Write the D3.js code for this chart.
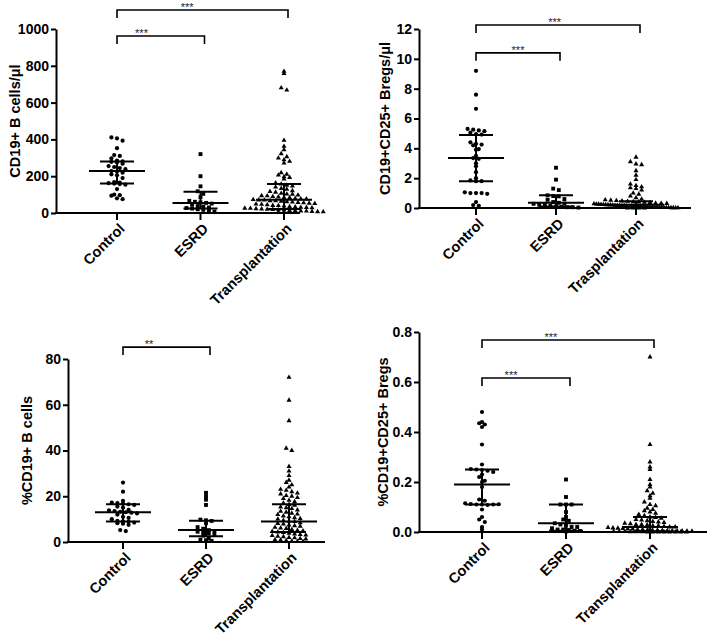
<!DOCTYPE html>
<html>
<head>
<meta charset="utf-8">
<script src="https://cdn.jsdelivr.net/npm/d3@7"></script>
<style>
  body { margin: 0; background: #fff; }
  svg text { font-family: "Liberation Sans", Arial, sans-serif; }
</style>
</head>
<body>
<svg id="chart" width="709" height="636"></svg>
<script>
// ---- categories ----
const groups = ["Control", "ESRD", "Transplantation"];
const groupsTypo = ["Control", "ESRD", "Trasplantation"]; // as printed in the CD25 panel

// ---- CD19+ B cells / ul ----
const absBControl = [411, 405, 393, 352, 315, 310, 297, 285, 280, 278, 274, 268, 255, 250, 244, 238, 228, 225, 219, 210, 205, 190, 168, 165, 162, 160, 157, 154, 130, 100, 97, 94, 80, 75];
const absBEsrd = [320, 200, 145, 118, 104, 86, 66, 61, 58, 55, 51, 45, 38, 35, 30, 27, 24, 20, 17, 12, 8];
const absBTrans = [770, 758, 680, 668, 395, 362, 344, 322, 306, 298, 289, 281, 271, 219, 211, 206, 197, 193, 184, 163, 157, 151, 147, 141, 133, 129, 121, 117, 113, 107, 103, 101, 97, 94, 93, 89, 87, 84, 83, 79, 77, 76, 73, 71, 70, 67, 66, 63, 61, 59, 57, 55, 53, 51, 48, 47, 44, 41, 40, 38, 35, 33, 31, 30, 28, 26, 25, 23, 22, 20, 19, 17, 16, 14, 13, 11, 10, 8, 7, 6, 4, 3, 2];
const absBMedian = [228, 55, 72];
const absBQ1 = [160, 25, 22];
const absBQ3 = [280, 116, 158];
const absBTicks = [0, 200, 400, 600, 800, 1000];

// ---- CD19+CD25+ Bregs / ul ----
const absRControl = [9.2, 7.6, 6.65, 5.3, 5.25, 5.2, 5.15, 5.05, 4.95, 4.92, 4.4, 4.3, 4.25, 4.2, 3.95, 3.9, 3.5, 3.35, 3.3, 3.0, 2.8, 2.4, 2.0, 1.85, 1.8, 1.8, 1.05, 1.0, 1.0, 1.0, 0.95, 0.4, 0.2, 0.15];
const absREsrd = [2.7, 1.9, 1.3, 1.2, 0.85, 0.8, 0.78, 0.6, 0.55, 0.4, 0.35, 0.3, 0.28, 0.22, 0.2, 0.15, 0.1, 0.08, 0.05, 0.05, 0.03];
const absRTrans = [3.4, 3.1, 2.95, 2.9, 2.5, 2.2, 1.9, 1.6, 1.5, 1.42, 1.35, 1.3, 1.2, 1.0, 0.92, 0.8, 0.68, 0.6, 0.55, 0.52, 0.5, 0.47, 0.45, 0.42, 0.4, 0.38, 0.36, 0.32, 0.31, 0.3, 0.28, 0.26, 0.25, 0.24, 0.23, 0.22, 0.21, 0.2, 0.19, 0.18, 0.17, 0.16, 0.15, 0.15, 0.14, 0.13, 0.12, 0.12, 0.11, 0.1, 0.1, 0.09, 0.08, 0.08, 0.07, 0.06, 0.06, 0.05, 0.05, 0.04, 0.04, 0.03, 0.03, 0.02, 0.02, 0.01, 0.01, 0.0, 0.0, 0.0, 0.0];
const absRMedian = [3.35, 0.35, 0.22];
const absRQ1 = [1.8, 0.1, 0.05];
const absRQ3 = [4.9, 0.85, 0.45];
const absRTicks = [0, 2, 4, 6, 8, 10, 12];

// ---- %CD19+ B cells ----
const pctBControl = [26, 22, 18, 17.2, 17, 16.8, 16.5, 16.2, 15.5, 15, 14, 13.8, 13.5, 13.2, 13, 12.8, 12.5, 12, 11, 10.5, 10, 9.2, 9, 8.8, 8.5, 8.2, 8, 7.5, 5.2, 4.8];
const pctBEsrd = [21.5, 20, 18.5, 16.2, 9.8, 9.5, 9.2, 8.2, 6.5, 5.8, 5.2, 4.8, 4.5, 4.2, 3.8, 3.2, 2.8, 1.5, 1.0, 0.8, 0.5];
const pctBTrans = [72, 62, 53, 41, 40, 33, 31, 29, 27, 26, 25, 24, 23, 22.6, 22, 21.4, 21, 20.3, 20, 19.4, 19, 18.2, 17.6, 17, 16.4, 16, 15.3, 15, 14.6, 14, 13.4, 13, 12.6, 12.2, 12, 11.4, 11, 10.6, 10.2, 10, 9.4, 9.1, 8.9, 8.4, 8.1, 7.9, 7.4, 7.1, 6.9, 6.4, 6.1, 5.9, 5.4, 5.1, 4.9, 4.6, 4.3, 4.1, 3.8, 3.5, 3.3, 3.0, 2.8, 2.5, 2.3, 2.0, 1.8, 1.5, 1.3, 1.0, 0.9, 0.6, 0.4, 0.3, 0.2];
const pctBMedian = [13, 5.3, 9];
const pctBQ1 = [9, 2.5, 4.4];
const pctBQ3 = [16.5, 9.3, 16.5];
const pctBTicks = [0, 20, 40, 60, 80];

// ---- %CD19+CD25+ Bregs ----
const pctRControl = [0.48, 0.44, 0.435, 0.43, 0.42, 0.35, 0.27, 0.252, 0.25, 0.248, 0.245, 0.24, 0.23, 0.22, 0.205, 0.2, 0.18, 0.13, 0.125, 0.115, 0.112, 0.11, 0.11, 0.108, 0.11, 0.111, 0.09, 0.06, 0.05, 0.04, 0.02, 0.01];
const pctREsrd = [0.21, 0.14, 0.11, 0.11, 0.11, 0.08, 0.06, 0.05, 0.045, 0.035, 0.03, 0.025, 0.02, 0.02, 0.015, 0.01, 0.01, 0.008, 0.005, 0.004, 0.002];
const pctRTrans = [0.70, 0.35, 0.28, 0.26, 0.25, 0.21, 0.19, 0.18, 0.165, 0.155, 0.145, 0.135, 0.12, 0.11, 0.105, 0.095, 0.09, 0.085, 0.08, 0.075, 0.07, 0.065, 0.06, 0.058, 0.055, 0.05, 0.048, 0.045, 0.042, 0.04, 0.038, 0.035, 0.033, 0.03, 0.03, 0.028, 0.025, 0.025, 0.022, 0.02, 0.02, 0.018, 0.016, 0.015, 0.014, 0.012, 0.012, 0.01, 0.01, 0.009, 0.008, 0.007, 0.006, 0.005, 0.005, 0.004, 0.004, 0.003, 0.003, 0.002, 0.002, 0.002, 0.001, 0.001, 0.001, 0, 0, 0, 0, 0, 0, 0, 0];
const pctRMedian = [0.19, 0.035, 0.02];
const pctRQ1 = [0.11, 0.005, 0.003];
const pctRQ3 = [0.25, 0.11, 0.06];
const pctRTicks = [0, 0.2, 0.4, 0.6, 0.8];

// brackets: [from, to, stars, height in data units, text position 0..1 along]
const absBBrackets = [[0, 1, "***", 962, 0.28], [0, 2, "***", 1103, 0.41]];
const absRBrackets = [[0, 1, "***", 10.4, 0.5], [0, 2, "***", 12.27, 0.48]];
const pctBBrackets = [[0, 1, "**", 85.2, 0.3]];
const pctRBrackets = [[0, 1, "***", 0.616, 0.33], [0, 2, "***", 0.768, 0.4]];

const svg = d3.select("#chart");
const shapes = [d3.symbolCircle, d3.symbolSquare, d3.symbolTriangle];
const shapeSize = [14, 15, 11];

// GraphPad-like scatter: points in the same pixel row get spread sideways
function swarm(values, y, cx, maxHalf) {
  const step = 5.6, binPx = 4.2;
  const pts = values.map(v => ({ v, y: y(v) }));
  const rows = d3.group(pts, p => Math.round(p.y / binPx));
  rows.forEach(row => {
    const n = row.length;
    const s = n > 1 ? Math.min(step, 2 * maxHalf / (n - 1)) : 0;
    row.forEach((p, i) => { p.x = cx + (i - (n - 1) / 2) * s; });
  });
  return pts;
}

function panel(cfg) {
  const y = d3.scaleLinear().domain(cfg.domain).range([cfg.y0, cfg.y1]);
  const x = d3.scalePoint().domain(cfg.labels).range([cfg.c0, cfg.c1]);
  const g = svg.append("g");

  // y axis
  const ya = g.append("g")
    .attr("transform", "translate(" + cfg.ax + ",0)")
    .call(d3.axisLeft(y).tickValues(cfg.ticks).tickFormat(cfg.fmt || d3.format("d")).tickSize(5).tickSizeOuter(0));
  ya.select(".domain").attr("stroke-width", 2);
  ya.selectAll(".tick line").attr("stroke-width", 2);
  ya.selectAll(".tick text").attr("font-size", 14).attr("font-weight", "bold").attr("fill", "#000").attr("x", -7);

  // x axis
  g.append("line").attr("x1", cfg.ax - 1).attr("x2", cfg.xEnd)
    .attr("y1", cfg.y0).attr("y2", cfg.y0).attr("stroke", "#000").attr("stroke-width", 2);
  cfg.labels.forEach(l => {
    g.append("line").attr("x1", x(l)).attr("x2", x(l)).attr("y1", cfg.y0).attr("y2", cfg.y0 + 7)
      .attr("stroke", "#000").attr("stroke-width", 2);
    g.append("text")
      .attr("transform", "translate(" + (x(l) + 5) + "," + (cfg.y0 + 13) + ") rotate(-45)")
      .attr("text-anchor", "end").attr("dy", "0.35em")
      .attr("font-size", 14.5).attr("font-weight", "bold").text(l);
  });

  // y label
  g.append("text")
    .attr("transform", "translate(" + cfg.lx + "," + ((cfg.y0 + cfg.y1) / 2) + ") rotate(-90)")
    .attr("text-anchor", "middle").attr("dy", "0.35em")
    .attr("font-size", 14.5).attr("font-weight", "bold").text(cfg.title);

  // points
  cfg.series.forEach((vals, i) => {
    const pts = swarm(vals, y, x(cfg.labels[i]), cfg.spread[i]);
    g.selectAll(null).data(pts).enter().append("path")
      .attr("d", d3.symbol().type(shapes[i]).size(shapeSize[i]))
      .attr("transform", p => "translate(" + p.x + "," + p.y + ")")
      .attr("fill", "#000");
  });

  // median + interquartile range
  cfg.labels.forEach((l, i) => {
    const cx = x(l);
    const line = (x1, x2, y1, y2) => g.append("line").attr("x1", x1).attr("x2", x2).attr("y1", y1).attr("y2", y2)
      .attr("stroke", "#000").attr("stroke-width", 2);
    line(cx - 28, cx + 28, y(cfg.median[i]), y(cfg.median[i]));
    line(cx - 17, cx + 17, y(cfg.q1[i]), y(cfg.q1[i]));
    line(cx - 17, cx + 17, y(cfg.q3[i]), y(cfg.q3[i]));
    line(cx, cx, y(cfg.q1[i]), y(cfg.q3[i]));
  });

  // significance brackets
  cfg.brackets.forEach(([a, b, stars, h, t]) => {
    const xa = x(cfg.labels[a]), xb = x(cfg.labels[b]) + 4, yb = y(h);
    g.append("path").attr("d", "M" + xa + "," + (yb + 8) + "V" + yb + "H" + xb + "V" + (yb + 8))
      .attr("fill", "none").attr("stroke", "#000").attr("stroke-width", 1.6);
    g.append("text").attr("x", xa + (xb - xa) * t).attr("y", yb + 1)
      .attr("text-anchor", "middle").attr("font-size", 11).attr("fill", "#222").text(stars);
  });
}

panel({ title: "CD19+ B cells/\u03bcl", labels: groups, domain: [0, 1000], ticks: absBTicks,
  y0: 213, y1: 29, ax: 56, xEnd: 300, c0: 117, c1: 284, lx: 15,
  series: [absBControl, absBEsrd, absBTrans], spread: [28, 28, 40],
  median: absBMedian, q1: absBQ1, q3: absBQ3, brackets: absBBrackets });

panel({ title: "CD19+CD25+ Bregs/\u03bcl", labels: groupsTypo, domain: [0, 12], ticks: absRTicks,
  y0: 208, y1: 29, ax: 419, xEnd: 691, c0: 476, c1: 636, lx: 385,
  series: [absRControl, absREsrd, absRTrans], spread: [28, 28, 42],
  median: absRMedian, q1: absRQ1, q3: absRQ3, brackets: absRBrackets });

panel({ title: "%CD19+ B cells", labels: groups, domain: [0, 80], ticks: pctBTicks,
  y0: 542, y1: 359, ax: 68, xEnd: 325, c0: 123, c1: 289, lx: 27,
  series: [pctBControl, pctBEsrd, pctBTrans], spread: [28, 28, 40],
  median: pctBMedian, q1: pctBQ1, q3: pctBQ3, brackets: pctBBrackets });

panel({ title: "%CD19+CD25+ Bregs", labels: groups, domain: [0, 0.8], ticks: pctRTicks, fmt: d3.format(".1f"),
  y0: 532, y1: 332, ax: 419, xEnd: 707, c0: 482, c1: 650, lx: 383,
  series: [pctRControl, pctREsrd, pctRTrans], spread: [28, 28, 42],
  median: pctRMedian, q1: pctRQ1, q3: pctRQ3, brackets: pctRBrackets });
</script>
</body>
</html>
